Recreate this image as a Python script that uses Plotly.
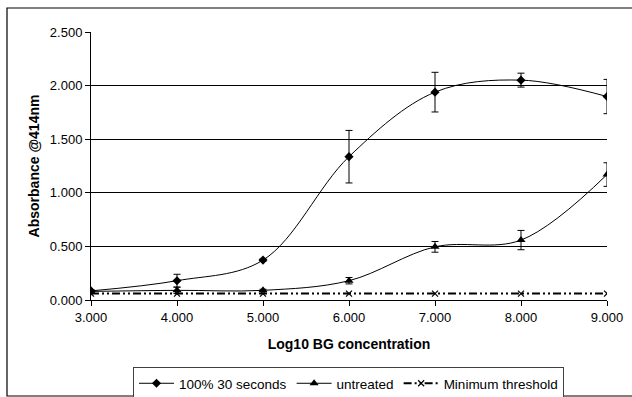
import plotly.graph_objects as go

x_vals = [3, 4, 5, 6, 7, 8, 9]
treated = [0.085, 0.18, 0.372, 1.337, 1.939, 2.051, 1.898]
treated_err = [0.01, 0.06, 0.01, 0.245, 0.185, 0.065, 0.16]
untreated = [0.08, 0.09, 0.09, 0.18, 0.496, 0.559, 1.17]
untreated_err = [0.01, 0.03, 0.01, 0.03, 0.05, 0.09, 0.11]
threshold = [0.06, 0.06, 0.06, 0.06, 0.06, 0.06, 0.06]

L, R, T, B = 91, 25, 32, 97
W, H = 632, 397
pw, ph = W - L - R, H - T - B

def px(xp):
    return (xp - L) / pw

def py(yp):
    return (H - B - yp) / ph

fig = go.Figure()
fig.add_trace(go.Scatter(
    x=x_vals, y=treated, name="100% 30 seconds", mode="lines+markers",
    line=dict(color="black", width=1, shape="spline", smoothing=1),
    marker=dict(symbol="diamond", size=7, color="black"),
    error_y=dict(type="data", array=treated_err, visible=True, color="black", thickness=1, width=3.5),
))
fig.add_trace(go.Scatter(
    x=x_vals, y=untreated, name="untreated", mode="lines+markers",
    line=dict(color="black", width=1, shape="spline", smoothing=1),
    marker=dict(symbol="triangle-up", size=8, color="black"),
    error_y=dict(type="data", array=untreated_err, visible=True, color="black", thickness=1, width=3.5),
))
fig.add_trace(go.Scatter(
    x=x_vals, y=threshold, name="Minimum threshold", mode="lines+markers",
    line=dict(color="black", width=2, dash="8px,3px,2px,3px,2px,3px"),
    marker=dict(symbol="x-thin", size=6, color="black", line=dict(width=1.2, color="black")),
))

fig.update_layout(
    width=W, height=H,
    margin=dict(l=L, r=R, t=T, b=B, autoexpand=False),
    paper_bgcolor="white", plot_bgcolor="white",
    font=dict(family="Liberation Sans, Arial, sans-serif", size=13, color="black"),
    showlegend=True,
    legend=dict(
        orientation="h", x=px(348.5), xanchor="center", y=py(367), yanchor="top",
        bordercolor="#404040", borderwidth=1, font=dict(size=13.5),
        itemwidth=35, tracegroupgap=0,
    ),
    xaxis=dict(
        range=[3, 9], dtick=1, tick0=3, tickformat=".3f",
        showgrid=False, zeroline=False, showline=True, linecolor="black", linewidth=1,
        ticks="outside", ticklen=5, tickcolor="black", tickfont=dict(size=13),
        title=dict(text="<b>Log10 BG concentration</b>", font=dict(size=14), standoff=15),
    ),
    yaxis=dict(
        range=[0, 2.5], dtick=0.5, tick0=0, tickformat=".3f",
        showgrid=True, gridcolor="black", gridwidth=1,
        zeroline=False, showline=True, linecolor="black", linewidth=1,
        ticks="outside", ticklen=5, tickcolor="black", tickfont=dict(size=13),
        title=dict(text="<b>Absorbance @414nm</b>", font=dict(size=14), standoff=6),
    ),
    shapes=[
        dict(type="rect", xref="paper", yref="paper",
             x0=px(7), x1=px(645), y0=py(396), y1=py(8),
             line=dict(color="black", width=1.2), fillcolor="rgba(0,0,0,0)", layer="below"),
    ],
)

fig.write_html("out.html", config={"displayModeBar": False},
               post_script="document.body.style.margin='0';document.body.style.overflow='hidden';")
